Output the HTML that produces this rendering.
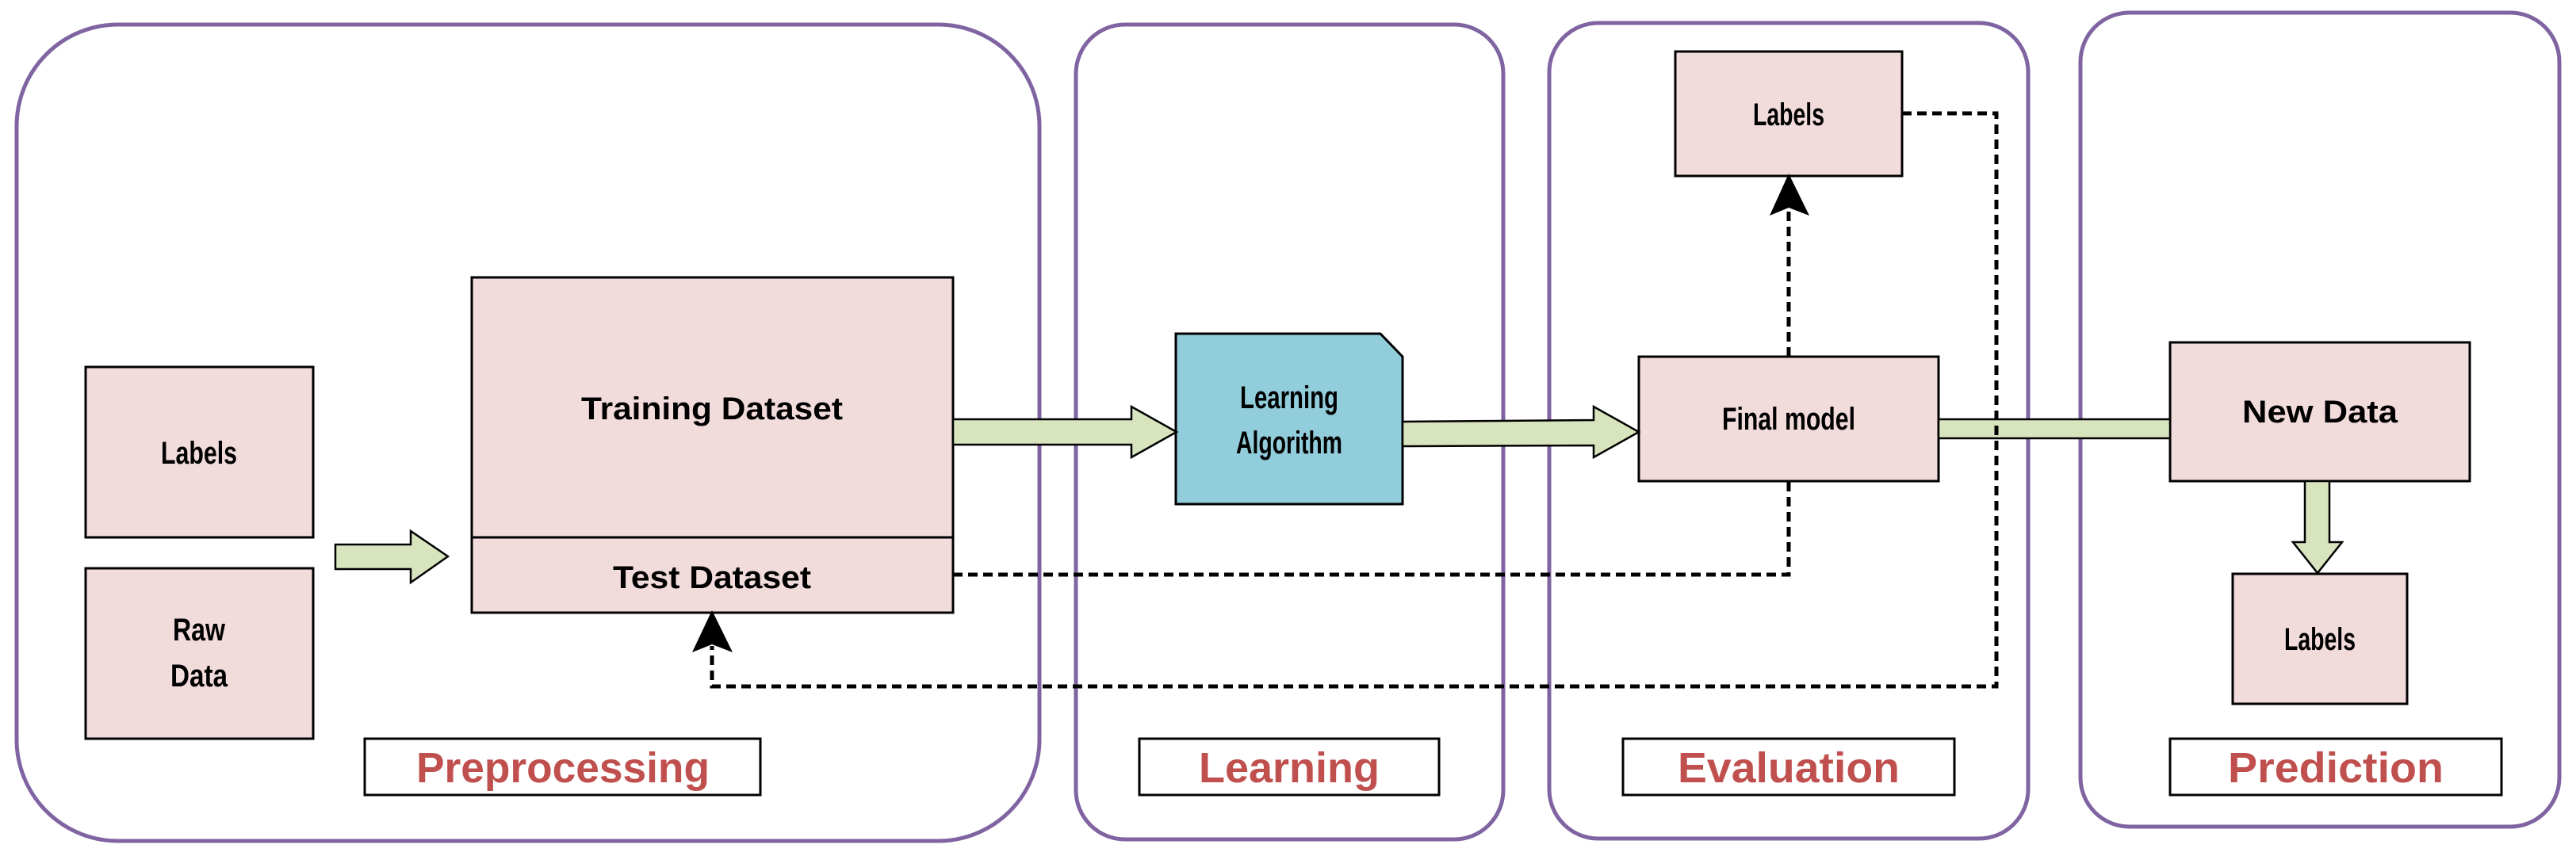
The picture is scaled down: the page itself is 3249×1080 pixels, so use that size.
<!DOCTYPE html>
<html><head><meta charset="utf-8"><style>html,body{margin:0;padding:0;background:#fff}svg{display:block}</style></head>
<body>
<svg width="3249" height="1080" viewBox="0 0 3249 1080" xmlns="http://www.w3.org/2000/svg" font-family="'Liberation Sans', sans-serif" font-weight="bold">
<g fill="none" stroke="#8064a2" stroke-width="5">
<rect x="21" y="31" width="1290" height="1030" rx="128" ry="128"/>
<rect x="1357" y="31" width="539" height="1028" rx="62" ry="62"/>
<rect x="1954" y="29" width="604" height="1029" rx="62" ry="62"/>
<rect x="2624" y="16" width="604" height="1027" rx="62" ry="62"/>
</g>
<g fill="#f2dcdb" stroke="#000" stroke-width="3">
<rect x="108" y="463" width="287" height="215"/>
<rect x="108" y="717" width="287" height="215"/>
<rect x="595" y="350" width="607" height="423"/>
<line x1="595" y1="678" x2="1202" y2="678"/>
<rect x="2067" y="450" width="378" height="157"/>
<rect x="2113" y="65" width="286" height="157"/>
<rect x="2737" y="432" width="378" height="175"/>
<rect x="2816" y="724" width="220" height="164"/>
</g>
<path d="M1483 421 L1741 421 L1769 450 L1769 636 L1483 636 Z" fill="#92cddc" stroke="#000" stroke-width="3"/>
<g fill="#d7e4bd" stroke="#000" stroke-width="2.5">
<path d="M423 687 L518 687 L518 670 L565 702 L518 735 L518 718 L423 718 Z"/>
<path d="M1202 529 L1427 529 L1427 513 L1484 545 L1427 577 L1427 561 L1202 561 Z"/>
<path d="M1769 532 L2010 530 L2010 513 L2067 545 L2010 577 L2010 562 L1769 563 Z"/>
<rect x="2445" y="529" width="292" height="24"/>
<path d="M2907 607 L2938 607 L2938 684 L2954 684 L2923 723 L2892 684 L2907 684 Z"/>
</g>
<g fill="none" stroke="#000" stroke-width="5" stroke-dasharray="12 7">
<polyline points="1202,725 2256,725 2256,607"/>
<line x1="2256" y1="450" x2="2256" y2="262"/>
<polyline points="2399,143 2518,143 2518,866 898,866 898,815"/>
</g>
<path d="M2256 219 L2282 272 L2256 262 L2232 272 Z" fill="#000"/>
<path d="M898 770 L924 823 L898 813 L873 823 Z" fill="#000"/>
<g fill="#fff" stroke="#000" stroke-width="3">
<rect x="460" y="932" width="499" height="71"/>
<rect x="1437" y="932" width="378" height="71"/>
<rect x="2047" y="932" width="418" height="71"/>
<rect x="2737" y="932" width="418" height="71"/>
</g>
<g fill="#000" font-size="40" text-anchor="middle">
<text x="251" y="585" textLength="96" lengthAdjust="spacingAndGlyphs">Labels</text>
<text x="251" y="808" textLength="66" lengthAdjust="spacingAndGlyphs">Raw</text>
<text x="251" y="866" textLength="72" lengthAdjust="spacingAndGlyphs">Data</text>
<text x="898" y="529" textLength="330" lengthAdjust="spacingAndGlyphs">Training Dataset</text>
<text x="898" y="742" textLength="250" lengthAdjust="spacingAndGlyphs">Test Dataset</text>
<text x="1626" y="515" textLength="124" lengthAdjust="spacingAndGlyphs">Learning</text>
<text x="1626" y="572" textLength="134" lengthAdjust="spacingAndGlyphs">Algorithm</text>
<text x="2256" y="542" textLength="168" lengthAdjust="spacingAndGlyphs">Final model</text>
<text x="2256" y="158" textLength="90" lengthAdjust="spacingAndGlyphs">Labels</text>
<text x="2926" y="533" textLength="196" lengthAdjust="spacingAndGlyphs">New Data</text>
<text x="2926" y="820" textLength="90" lengthAdjust="spacingAndGlyphs">Labels</text>
</g>
<g fill="#c0504d" font-size="54" text-anchor="middle">
<text x="710" y="987" textLength="370" lengthAdjust="spacingAndGlyphs">Preprocessing</text>
<text x="1626" y="987" textLength="228" lengthAdjust="spacingAndGlyphs">Learning</text>
<text x="2256" y="987" textLength="280" lengthAdjust="spacingAndGlyphs">Evaluation</text>
<text x="2946" y="987" textLength="272" lengthAdjust="spacingAndGlyphs">Prediction</text>
</g>
</svg>
</body></html>
